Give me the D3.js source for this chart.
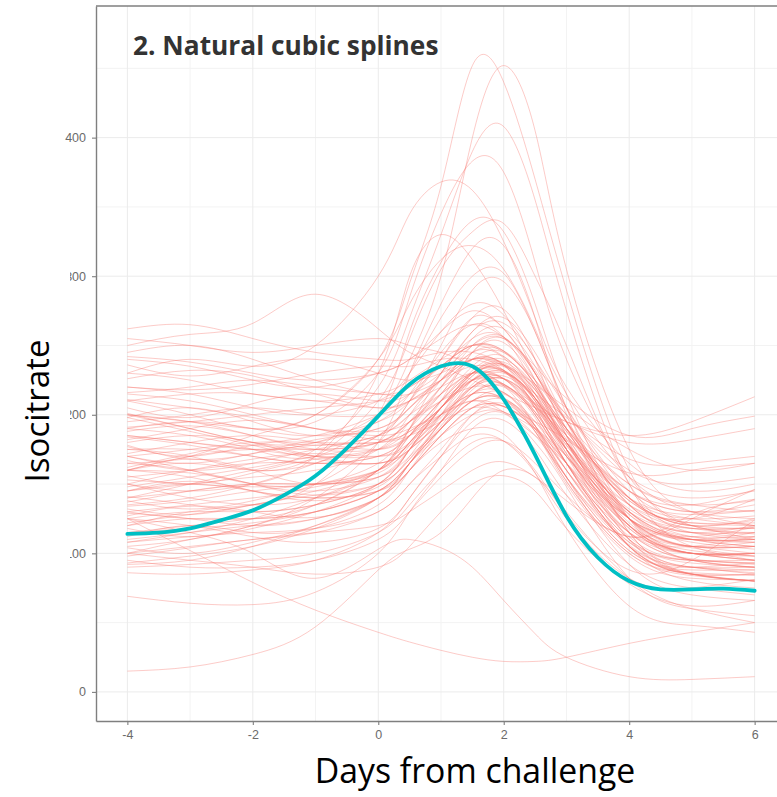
<!DOCTYPE html>
<html>
<head>
<meta charset="utf-8">
<script src="https://cdn.jsdelivr.net/npm/d3@7"></script>
<style>
  body { margin: 0; background: #fff; }
  svg { display: block; }
</style>
</head>
<body>
<script>
// knots (days from challenge) shared by every subject curve
const days = [-4, -3, -2, -1, 0, 0.5, 1, 1.5, 2, 2.5, 3, 4, 5, 6];

// one row per subject, isocitrate at the knots above
const subjects = [
  [165,170,185,200,240,295,365,452,440,370,290,160,120,110],
  [190,185,175,170,200,240,300,400,452,405,305,175,130,120],
  [140,150,160,175,220,270,330,390,408,355,275,150,105,95],
  [200,195,190,195,230,285,345,383,375,310,240,155,120,115],
  [230,240,235,250,300,345,368,362,325,270,220,165,145,150],
  [120,130,135,150,200,260,310,340,332,280,215,125,95,90],
  [175,170,160,170,210,255,305,332,338,300,250,150,115,110],
  [150,145,150,170,230,300,330,312,275,230,195,135,115,120],
  [210,200,190,200,240,280,312,322,305,262,215,155,130,125],
  [100,110,120,140,180,230,280,320,322,270,200,115,85,80],
  [185,180,175,180,200,230,270,300,302,260,205,115,90,85],
  [160,165,160,165,185,210,250,290,296,260,205,125,100,95],
  [130,135,140,150,180,210,240,270,276,240,185,110,85,80],
  [220,215,205,200,210,230,260,280,272,240,205,145,125,120],
  [145,150,155,160,175,200,230,260,266,240,195,125,105,100],
  [190,195,190,185,195,210,240,270,262,230,190,130,110,110],
  [115,120,125,135,160,190,230,255,256,225,175,105,80,75],
  [170,160,150,150,165,190,220,250,256,230,190,125,100,100],
  [240,235,225,220,230,240,260,275,262,230,200,155,140,145],
  [200,190,180,180,195,215,245,265,256,220,180,120,100,95],
  [135,140,150,165,185,205,225,240,236,215,180,120,95,90],
  [160,170,175,175,180,195,215,245,252,225,185,125,105,105],
  [105,110,120,135,160,185,210,235,242,215,175,110,85,80],
  [180,185,180,170,175,195,220,240,236,210,175,120,100,100],
  [150,140,135,140,160,190,220,240,236,205,165,105,85,85],
  [210,215,215,210,215,225,240,250,242,220,190,140,120,125],
  [125,130,130,135,150,175,205,230,232,205,165,105,85,85],
  [175,175,170,165,170,185,210,230,232,210,180,130,110,105],
  [195,200,205,200,200,210,225,240,232,205,175,125,110,115],
  [140,145,150,150,155,175,205,225,226,200,165,110,95,95],
  [165,160,150,145,155,175,200,225,226,205,175,120,100,95],
  [120,125,125,130,145,165,190,215,222,200,165,105,85,80],
  [230,225,215,210,205,210,220,230,222,205,185,145,130,135],
  [155,160,165,165,165,175,195,215,216,195,165,115,100,100],
  [185,180,175,170,170,180,200,215,212,195,170,125,110,110],
  [110,115,120,125,140,160,185,205,206,190,160,105,85,80],
  [145,150,145,140,145,160,185,205,206,190,165,115,95,90],
  [200,195,185,175,175,185,200,210,202,185,165,125,110,110],
  [130,125,125,130,145,165,185,200,202,185,155,105,90,90],
  [170,175,180,180,180,185,195,205,202,190,170,130,115,115],
  [262,265,255,245,240,240,245,245,237,222,205,175,160,165],
  [255,250,245,250,255,250,245,235,222,208,195,180,182,190],
  [250,258,266,287,262,245,235,225,215,205,195,185,195,213],
  [242,238,230,225,230,240,255,265,256,235,212,185,190,199],
  [220,218,222,230,235,235,240,240,232,215,198,168,165,170],
  [215,210,200,190,185,190,200,210,206,195,182,158,160,165],
  [100,105,110,115,120,130,145,160,166,155,138,112,125,146],
  [95,90,90,95,110,130,155,175,181,165,142,112,128,139],
  [90,92,95,100,115,135,160,180,181,160,128,88,95,124],
  [15,18,27,47,88,103,115,140,160,155,130,82,60,50],
  [125,115,100,82,103,110,104,90,66,42,25,11,9,11],
  [69,64,63,72,100,130,160,190,196,175,142,92,75,70],
  [125,102,79,59,43,36,30,25,22,22,25,35,43,50],
  [92,95,105,120,140,160,180,190,186,158,118,62,48,43],
  [86,85,88,95,115,140,170,195,201,180,148,82,60,55],
  [100,95,90,85,90,105,130,150,156,145,118,78,62,66],
  [108,112,115,118,130,150,170,185,181,158,125,82,75,81],
  [93,98,105,118,140,165,190,210,216,192,155,92,70,66],
  [198,205,195,185,190,205,225,245,241,212,180,130,110,105],
  [177,170,178,185,200,215,235,250,246,222,190,140,120,124],
  [167,160,165,175,185,200,215,230,226,202,170,120,100,100],
  [160,168,160,150,160,180,205,225,221,192,155,102,90,93],
  [148,155,162,170,180,195,210,220,216,192,160,115,105,112],
  [141,135,130,135,150,175,205,230,236,212,175,118,100,100],
  [134,138,145,150,160,175,195,215,221,202,170,125,112,119],
  [129,125,120,125,140,160,185,205,211,192,160,108,90,86],
  [122,128,135,145,160,180,200,215,211,188,155,108,95,93],
  [191,195,200,205,210,220,235,250,246,222,190,145,130,131],
  [184,178,170,165,170,185,205,225,231,212,180,135,118,119],
  [153,150,148,150,160,180,205,230,236,215,180,125,105,105],
  [211,205,198,190,188,195,210,225,221,202,175,135,125,139],
  [216,220,225,220,215,215,225,235,231,212,185,145,135,146],
  [201,190,180,175,180,195,215,230,226,207,180,140,128,131],
  [108,115,125,140,160,185,210,230,231,207,170,112,95,93],
  [172,180,185,180,175,185,205,225,231,212,180,130,112,112],
  [160,155,145,140,145,165,195,220,226,207,175,125,105,105],
  [137,145,150,150,155,170,190,210,211,192,165,120,105,108],
  [115,118,122,130,145,165,190,210,211,188,150,98,82,81],
  [245,250,240,225,215,220,235,250,245,225,200,160,150,155],
  [236,228,235,240,230,225,230,240,235,215,190,150,135,130],
  [226,232,228,215,205,210,225,245,246,225,195,150,135,138],
  [205,198,208,215,210,215,230,250,255,230,195,140,120,118],
  [188,192,185,178,185,200,225,255,262,235,195,135,115,112],
  [178,168,172,182,190,205,230,260,270,245,205,140,118,114],
  [162,172,178,170,165,180,210,245,255,232,195,135,112,108],
  [156,150,158,168,175,190,215,240,245,222,185,128,108,103],
  [145,152,145,138,148,170,200,230,238,218,180,122,102,98],
  [138,132,138,148,158,178,205,232,240,220,182,125,104,98],
  [127,134,130,126,140,165,195,225,232,210,172,115,96,92],
  [118,112,118,130,150,175,200,220,222,200,165,110,93,90],
  [112,120,115,118,135,160,190,215,220,198,160,106,90,88],
  [104,100,108,120,140,165,190,210,212,190,152,100,84,80],
  [98,104,110,115,130,150,175,200,206,188,152,100,86,84],
  [170,165,172,178,180,188,205,228,235,218,188,138,122,122],
  [150,160,168,172,170,178,198,220,226,208,178,132,118,118],
  [125,120,112,108,118,140,170,200,208,190,155,102,88,88],
  [198,188,178,168,165,175,195,220,228,212,185,138,122,120],
  [182,190,196,190,182,188,205,228,236,218,188,140,125,127],
  [132,128,135,142,150,168,192,218,226,208,172,118,100,98],
  [160,158,150,142,150,168,195,222,230,212,178,128,110,108]
];

// population mean curve, every half day
const meanDays   = [-4, -3.5, -3, -2.5, -2, -1.5, -1, -0.5, 0, 0.5, 1, 1.5, 2, 2.5, 3, 3.5, 4, 4.5, 5, 5.5, 6];
const meanValues = [114, 115, 118, 124, 131, 142, 156, 176, 199, 222, 235, 235, 211, 171, 127, 97, 80, 74, 74, 74.5, 73];

const xTicks = [-4, -2, 0, 2, 4, 6];
const xMinor = [-3, -1, 1, 3, 5];
const yTicks = [0, 100, 200, 300, 400];
const yMinor = [50, 150, 250, 350, 450];

const width = 777, height = 797;
const panelLeft = 96, panelTop = 6, panelRight = 786, panelBottom = 721;

const svg = d3.select("body").append("svg")
    .attr("width", width)
    .attr("height", height)
    .style("background-color", "#fff");

const x = d3.scaleLinear().domain([-4.5, 6.5]).range([panelLeft, panelRight]);
const y = d3.scaleLinear().domain([-21, 495]).range([panelBottom, panelTop]);

// grid
const grid = svg.append("g");
grid.selectAll(".xmin").data(xMinor).enter().append("line")
    .attr("x1", d => x(d)).attr("x2", d => x(d))
    .attr("y1", panelTop).attr("y2", panelBottom)
    .attr("stroke", "#f3f3f3").attr("stroke-width", 1);
grid.selectAll(".ymin").data(yMinor).enter().append("line")
    .attr("x1", panelLeft).attr("x2", panelRight)
    .attr("y1", d => y(d)).attr("y2", d => y(d))
    .attr("stroke", "#f3f3f3").attr("stroke-width", 1);
grid.selectAll(".xmaj").data(xTicks).enter().append("line")
    .attr("x1", d => x(d)).attr("x2", d => x(d))
    .attr("y1", panelTop).attr("y2", panelBottom)
    .attr("stroke", "#ebebeb").attr("stroke-width", 1);
grid.selectAll(".ymaj").data(yTicks).enter().append("line")
    .attr("x1", panelLeft).attr("x2", panelRight)
    .attr("y1", d => y(d)).attr("y2", d => y(d))
    .attr("stroke", "#ebebeb").attr("stroke-width", 1);

// natural cubic splines through the knots
const line = d3.line()
    .x(d => x(d[0]))
    .y(d => y(d[1]))
    .curve(d3.curveNatural);

svg.append("g").selectAll("path")
    .data(subjects)
    .enter().append("path")
    .attr("d", vals => line(vals.map((v, i) => [days[i], v])))
    .attr("fill", "none")
    .attr("stroke", "#F8766D")
    .attr("stroke-opacity", 0.42)
    .attr("stroke-width", 0.9);

// mean curve
svg.append("path")
    .attr("d", line(meanValues.map((v, i) => [meanDays[i], v])))
    .attr("fill", "none")
    .attr("stroke", "#00BFC4")
    .attr("stroke-width", 3.8)
    .attr("stroke-linecap", "round");

// axes
const yAxis = svg.append("g")
    .attr("transform", `translate(${panelLeft},0)`)
    .call(d3.axisLeft(y).tickValues(yTicks).tickSize(4).tickSizeOuter(0).tickPadding(6));
const xAxis = svg.append("g")
    .attr("transform", `translate(0,${panelBottom})`)
    .call(d3.axisBottom(x).tickValues(xTicks).tickFormat(d => String(d))
        .tickSize(4).tickSizeOuter(0).tickPadding(5));

[yAxis, xAxis].forEach(a => {
    a.select(".domain").attr("stroke", "#7f7f7f").attr("stroke-width", 1.4);
    a.selectAll(".tick line").attr("stroke", "#7f7f7f").attr("stroke-width", 1.1);
    a.selectAll(".tick text")
        .attr("fill", "#6b6b6b")
        .style("font-family", "'Liberation Sans', Arial, sans-serif")
        .style("font-size", "12.5px");
});

svg.append("line")
    .attr("x1", panelLeft).attr("x2", panelRight)
    .attr("y1", panelTop).attr("y2", panelTop)
    .attr("stroke", "#7f7f7f").attr("stroke-width", 1.4);

// white box behind the y title hides the leading digits of the ticks
svg.append("rect")
    .attr("x", 0).attr("y", 262)
    .attr("width", 70).attr("height", 306)
    .attr("fill", "#fff");

svg.append("text")
    .attr("transform", "translate(49,411) rotate(-90)")
    .attr("text-anchor", "middle")
    .style("font-family", "'Open Sans', sans-serif")
    .style("font-size", "33px")
    .attr("fill", "#000")
    .text("Isocitrate");

svg.append("text")
    .attr("x", 475)
    .attr("y", 783)
    .attr("text-anchor", "middle")
    .style("font-family", "'Open Sans', sans-serif")
    .style("font-size", "33.8px")
    .attr("fill", "#000")
    .text("Days from challenge");

svg.append("text")
    .attr("x", 133)
    .attr("y", 55)
    .style("font-family", "'Open Sans', sans-serif")
    .style("font-weight", "700")
    .style("font-size", "26.3px")
    .attr("fill", "#333")
    .text("2. Natural cubic splines");
</script>
</body>
</html>
